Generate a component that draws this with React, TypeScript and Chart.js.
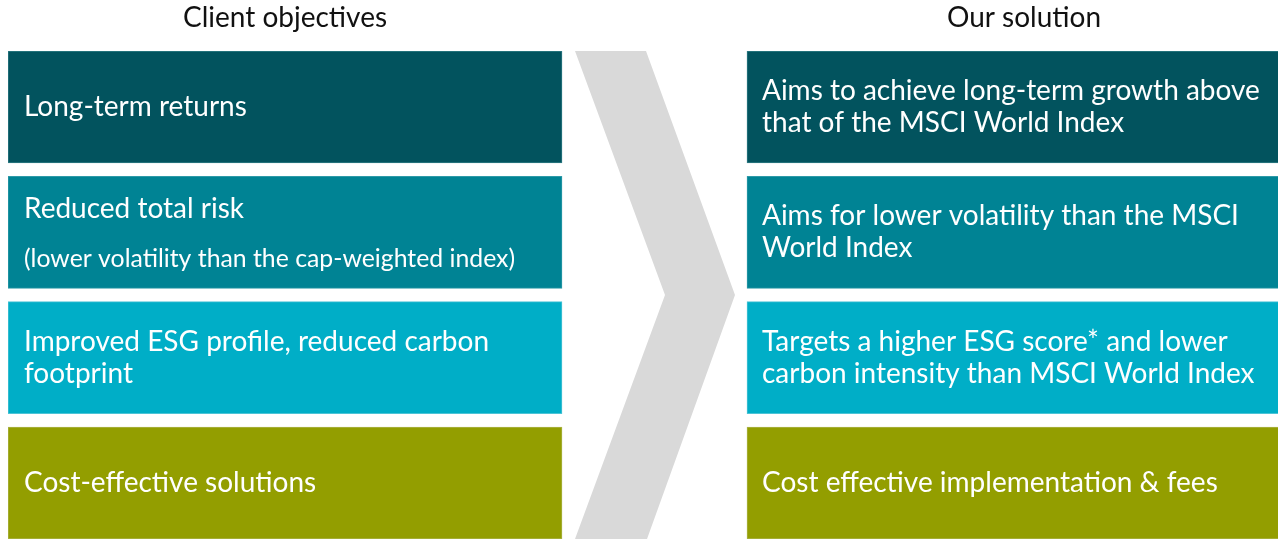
import React, { useEffect, useRef } from "react";
import { Chart, registerables } from "chart.js";

Chart.register(...registerables);

// ---- data ----
const headers = ["Client objectives", "Our solution"];
const rows = [0, 1, 2, 3];
const objectives: string[][] = [
  ["Long-term returns"],
  ["Reduced total risk"],
  ["Improved ESG profile, reduced carbon", "footprint"],
  ["Cost-effective solutions"],
];
const objectiveNotes = ["", "(lower volatility than the cap-weighted index)", "", ""];
const solutions: string[][] = [
  ["Aims to achieve long-term growth above", "that of the MSCI World Index"],
  ["Aims for lower volatility than the MSCI", "World Index"],
  ["Targets a higher ESG score* and lower", "carbon intensity than MSCI World Index"],
  ["Cost effective implementation & fees"],
];

// ---- layout / style (not data) ----
const rowColors = ["#02535E", "#008394", "#00AEC7", "#939E00"];
const rowBorders = ["#2F7B84", "#2E9AA8", "#4CC4D6", "#ABB347"];
const COL_LEFT: [number, number] = [0, 554];
const COL_RIGHT: [number, number] = [739, 1293];
const X_MAX = 1270;
const ROW_HALF = 0.447;
const FONT = "Lato, 'Open Sans', sans-serif";
const MAIN_SIZE = 28;
const NOTE_SIZE = 24.8;
const LINE_H = 32;

// chevron built from the gap between the two columns
const gapL = COL_LEFT[1];
const gapR = COL_RIGHT[0];
const chevron = [
  { x: gapL + 13, y: -ROW_HALF },
  { x: gapL + 84, y: -ROW_HALF },
  { x: gapR - 12, y: 1.5 },
  { x: gapL + 85, y: 3 + ROW_HALF },
  { x: gapL + 13, y: 3 + ROW_HALF },
  { x: gapL + 103, y: 1.5 },
  { x: gapL + 13, y: -ROW_HALF },
];

const textPlugin = {
  id: "boxText",
  afterDatasetsDraw(chart: any) {
    const ctx = chart.ctx;
    const xs = chart.scales.x;
    ctx.save();
    // headers
    ctx.fillStyle = "#111111";
    ctx.font = `${MAIN_SIZE}px ${FONT}`;
    ctx.textAlign = "center";
    ctx.textBaseline = "alphabetic";
    [COL_LEFT, COL_RIGHT].forEach((col, i) => {
      const cx = xs.getPixelForValue((col[0] + col[1]) / 2);
      ctx.fillText(headers[i], cx, 27);
    });
    ctx.textAlign = "left";
    ctx.fillStyle = "#ffffff";
    const cap = 18;
    [0, 1].forEach((di) => {
      const meta = chart.getDatasetMeta(di);
      const texts = di === 0 ? objectives : solutions;
      meta.data.forEach((bar: any, i: number) => {
        const p = bar.getProps(["x", "base", "y", "height"], true);
        const left = Math.min(p.x, p.base);
        const tx = left + (di === 0 ? 16 : 15);
        const cy = p.y;
        const lines = texts[i];
        const note = di === 0 ? objectiveNotes[i] : "";
        ctx.font = `${MAIN_SIZE}px ${FONT}`;
        if (note) {
          ctx.fillText(lines[0], tx, cy - 14);
          ctx.font = `${NOTE_SIZE}px ${FONT}`;
          ctx.fillText(note, tx, cy + 35);
        } else {
          const n = lines.length;
          lines.forEach((ln, k) => {
            const by = cy + cap / 2 + (k - (n - 1) / 2) * LINE_H;
            ctx.fillText(ln, tx, by);
          });
        }
      });
    });
    ctx.restore();
  },
};

export default function App() {
  const ref = useRef<HTMLCanvasElement | null>(null);
  useEffect(() => {
    document.body.style.margin = "0";
    const canvas = ref.current;
    if (!canvas) return;
    const chart = new Chart(canvas, {
      type: "bar",
      data: {
        datasets: [
          {
            type: "bar",
            indexAxis: "y",
            label: headers[0],
            data: rows.map((r) => ({ x: COL_LEFT, y: r })) as any,
            backgroundColor: rowColors,
            borderColor: rowBorders,
            borderWidth: 1,
            borderSkipped: false,
            barThickness: 112,
            grouped: false,
          } as any,
          {
            type: "bar",
            indexAxis: "y",
            label: headers[1],
            data: rows.map((r) => ({ x: COL_RIGHT, y: r })) as any,
            backgroundColor: rowColors,
            borderColor: rowBorders,
            borderWidth: 1,
            borderSkipped: false,
            barThickness: 112,
            grouped: false,
          } as any,
          {
            type: "line",
            label: "arrow",
            data: chevron as any,
            fill: "shape",
            backgroundColor: "#D9D9D9",
            borderColor: "#D9D9D9",
            borderWidth: 0,
            pointRadius: 0,
            tension: 0,
            clip: false,
          } as any,
        ],
      },
      options: {
        animation: false,
        responsive: true,
        maintainAspectRatio: false,
        layout: { padding: { top: 51, left: 8, right: 0, bottom: 0 } },
        scales: {
          x: { type: "linear", min: 0, max: X_MAX, display: false, offset: false, grid: { offset: false } },
          y: {
            type: "linear",
            min: -ROW_HALF,
            max: 3 + ROW_HALF,
            reverse: true,
            display: false,
            offset: false,
            grid: { offset: false },
          },
        },
        plugins: { legend: { display: false }, tooltip: { enabled: false } },
      } as any,
      plugins: [textPlugin],
    });
    return () => chart.destroy();
  }, []);
  return (
    <div style={{ position: "relative", width: "1278px", height: "539px" }}>
      <canvas ref={ref} />
    </div>
  );
}
